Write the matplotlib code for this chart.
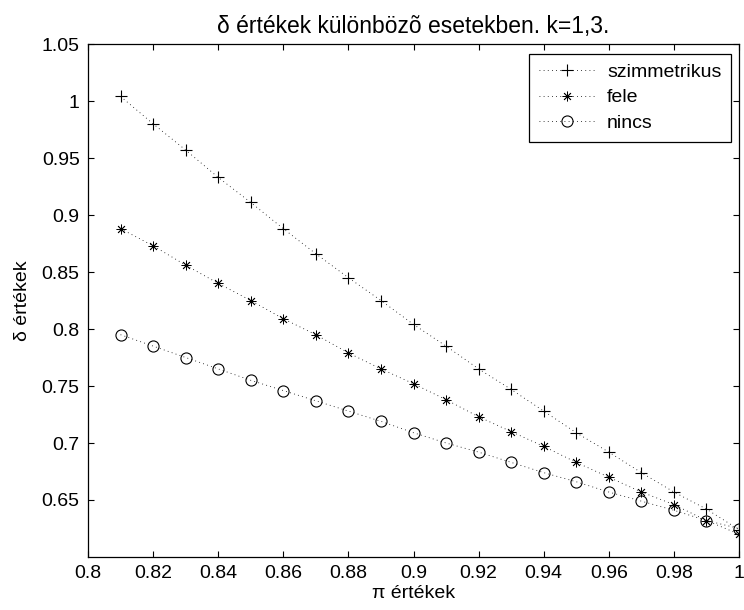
import matplotlib

matplotlib.use("Agg")
import matplotlib.pyplot as plt
import numpy as np

plt.rcParams["font.family"] = ["Liberation Sans", "DejaVu Sans"]

# pi values on the x axis
pi_vals = [0.81, 0.82, 0.83, 0.84, 0.85, 0.86, 0.87, 0.88, 0.89, 0.90,
           0.91, 0.92, 0.93, 0.94, 0.95, 0.96, 0.97, 0.98, 0.99, 1.00]

szimmetrikus = [1.004, 0.980, 0.957, 0.933, 0.911, 0.888, 0.866, 0.845, 0.825, 0.804,
                0.785, 0.765, 0.747, 0.728, 0.709, 0.692, 0.674, 0.657, 0.642, 0.624]
fele = [0.888, 0.873, 0.856, 0.840, 0.825, 0.809, 0.795, 0.779, 0.765, 0.752,
        0.738, 0.723, 0.710, 0.697, 0.683, 0.670, 0.657, 0.646, 0.632, 0.620]
nincs = [0.795, 0.785, 0.775, 0.765, 0.755, 0.746, 0.737, 0.728, 0.719, 0.709,
         0.700, 0.692, 0.683, 0.674, 0.666, 0.657, 0.649, 0.641, 0.632, 0.625]

x_ticks = [0.8, 0.82, 0.84, 0.86, 0.88, 0.9, 0.92, 0.94, 0.96, 0.98, 1.0]
x_labels = ["0.8", "0.82", "0.84", "0.86", "0.88", "0.9", "0.92", "0.94", "0.96", "0.98", "1"]
y_ticks = [0.65, 0.7, 0.75, 0.8, 0.85, 0.9, 0.95, 1.0, 1.05]
y_labels = ["0.65", "0.7", "0.75", "0.8", "0.85", "0.9", "0.95", "1", "1.05"]

fig = plt.figure(figsize=(7.44, 6.10), dpi=100)
ax = fig.add_axes([88 / 744, 1 - 557 / 610, 651 / 744, 513 / 610])

dots = (0, (1, 4))
ax.plot(pi_vals, szimmetrikus, color="black", lw=0.6, ls=dots, marker="+",
        ms=9, mew=0.8, label="szimmetrikus")
ax.plot(pi_vals, fele, color="black", lw=0.6, ls=dots, marker=(8, 2, 0),
        ms=7, mew=0.6, label="fele")
ax.plot(pi_vals, nincs, color="black", lw=0.6, ls=dots, marker="o",
        ms=8, mew=0.8, mfc="none", label="nincs")

ax.set_xlim(0.8, 1.0)
ax.set_ylim(0.6, 1.05)
ax.set_xticks(x_ticks)
ax.set_xticklabels(x_labels)
ax.set_yticks(y_ticks)
ax.set_yticklabels(y_labels)
ax.tick_params(direction="in", length=4, width=0.8, top=True, right=True,
               labelsize=14, pad=6)
for s in ax.spines.values():
    s.set_linewidth(0.9)

ax.set_title("δ értékek különbözõ esetekben. k=1,3.", fontsize=16.5, pad=8)
ax.set_xlabel("π értékek", fontsize=14, labelpad=2)
ax.set_ylabel("δ értékek", fontsize=14, labelpad=8)

leg = ax.legend(loc="upper right", bbox_to_anchor=(0.988, 0.981), borderaxespad=0,
                fontsize=14, fancybox=False, edgecolor="black", framealpha=1,
                handlelength=2.9, handletextpad=0.6, labelspacing=0.4,
                borderpad=0.5)
leg.get_frame().set_linewidth(0.9)

fig.savefig("out.png", dpi=100)
